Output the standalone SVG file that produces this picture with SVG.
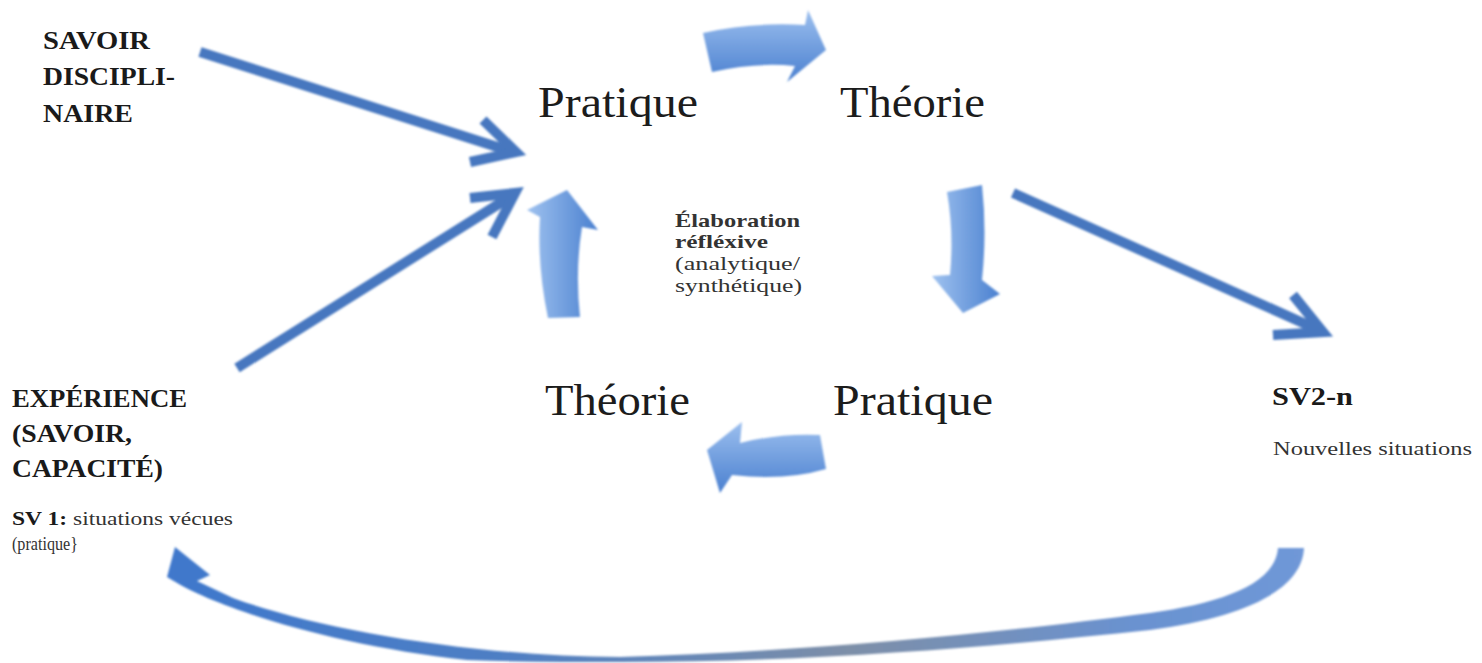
<svg xmlns="http://www.w3.org/2000/svg" width="1482" height="663" viewBox="0 0 1482 663">
<style>
.big{font-family:"Liberation Serif",serif;font-size:44px;fill:#1c1c1c}
.lbl{font-family:"Liberation Serif",serif;font-size:26px;font-weight:bold;fill:#1a1a1a}
.mid{font-family:"Liberation Serif",serif;font-size:19px;fill:#333}
.sm{font-family:"Liberation Serif",serif;font-size:19px;fill:#333}
.line{fill:none;stroke:#4677bf;stroke-width:10;stroke-linejoin:miter}
</style>
<defs>
<linearGradient id="gV" x1="0" y1="0" x2="0" y2="1"><stop offset="0" stop-color="#9cbfee"/><stop offset="1" stop-color="#4a80d0"/></linearGradient>
<linearGradient id="gH" x1="0" y1="0" x2="1" y2="0"><stop offset="0" stop-color="#9fc2ef"/><stop offset="1" stop-color="#4a80d0"/></linearGradient>
<linearGradient id="gB" x1="0" y1="0" x2="1" y2="0"><stop offset="0" stop-color="#3f78cc"/><stop offset="0.3" stop-color="#4f7fc4"/><stop offset="0.6" stop-color="#7d8fa8"/><stop offset="0.85" stop-color="#6a92d0"/><stop offset="1" stop-color="#6f98d8"/></linearGradient>
<filter id="soft" x="-5%" y="-5%" width="110%" height="110%"><feGaussianBlur stdDeviation="0.8"/></filter>
</defs>

<g id="connectors" filter="url(#soft)">
<g id="arrow-savoir">
<path class="line" d="M200,52 L513,152"/>
<path class="line" d="M483,120 L516,152 L470,162"/>
</g>
<g id="arrow-experience">
<path class="line" d="M237,368 L513,195"/>
<path class="line" d="M470,198 L515,193 L492,237"/>
</g>
<g id="arrow-sv2">
<path class="line" d="M1013,193 L1321,331"/>
<path class="line" d="M1293,295 L1323,332 L1273,335"/>
</g>
<path id="arrow-top" fill="url(#gV)" d="M703,33 Q750,22 805,25 L808,10 L826,50 L787,82 L795,66 Q755,62 712,72 Z"/>
<path id="arrow-down" fill="url(#gH)" d="M947,192 Q954,232 950,275 L932,276 L963,313 L1000,294 L982,280 Q987,232 982,185 Z"/>
<path id="arrow-up" fill="url(#gH)" d="M548,318 Q537,265 540,217 L527,210 L567,190 L598,230 L582,227 Q575,270 580,317 Z"/>
<path id="arrow-left" fill="url(#gV)" d="M820,435 Q780,433 740,443 L742,422 L707,450 L720,493 L732,475 Q785,481 826,469 Z"/>
<path id="arrow-bottom" fill="url(#gB)" d="M1278,548 C1275,585 1220,603 1150,613 C1000,633 800,652 620,657 C480,657 320,630 233,598 L197,581 L210,575 L175,547 L167,577 L172,580 C215,607 330,645 467,660 C520,662 570,662 620,662 C820,662 1000,646 1150,630 C1245,617 1302,590 1304,548 Z"/>
</g>

<g id="node-savoir">
<text class="lbl" x="43" y="49" textLength="107" lengthAdjust="spacingAndGlyphs">SAVOIR</text>
<text class="lbl" x="43" y="85" textLength="132" lengthAdjust="spacingAndGlyphs">DISCIPLI-</text>
<text class="lbl" x="43" y="122" textLength="90" lengthAdjust="spacingAndGlyphs">NAIRE</text>
</g>
<g id="node-pratique-top"><text class="big" x="538" y="117" textLength="160" lengthAdjust="spacingAndGlyphs">Pratique</text></g>
<g id="node-theorie-top"><text class="big" x="840" y="117" textLength="145" lengthAdjust="spacingAndGlyphs">Théorie</text></g>
<g id="node-elaboration">
<text class="mid" x="675" y="227" font-weight="bold" fill="#1a1a1a" textLength="125" lengthAdjust="spacingAndGlyphs">Élaboration</text>
<text class="mid" x="675" y="248" font-weight="bold" fill="#1a1a1a" textLength="93" lengthAdjust="spacingAndGlyphs">réfléxive</text>
<text class="mid" x="675" y="270" textLength="125" lengthAdjust="spacingAndGlyphs">(analytique/</text>
<text class="mid" x="675" y="292" textLength="127" lengthAdjust="spacingAndGlyphs">synthétique)</text>
</g>
<g id="node-theorie-bottom"><text class="big" x="545" y="415" textLength="145" lengthAdjust="spacingAndGlyphs">Théorie</text></g>
<g id="node-pratique-bottom"><text class="big" x="833" y="415" textLength="160" lengthAdjust="spacingAndGlyphs">Pratique</text></g>
<g id="node-experience">
<text class="lbl" x="12" y="407" textLength="175" lengthAdjust="spacingAndGlyphs">EXPÉRIENCE</text>
<text class="lbl" x="12" y="442" textLength="120" lengthAdjust="spacingAndGlyphs">(SAVOIR,</text>
<text class="lbl" x="12" y="477" textLength="151" lengthAdjust="spacingAndGlyphs">CAPACITÉ)</text>
<text class="sm" x="12" y="525" textLength="221" lengthAdjust="spacingAndGlyphs"><tspan font-weight="bold" fill="#1a1a1a">SV 1:</tspan> situations vécues</text>
<text class="sm" x="12" y="550" textLength="66" lengthAdjust="spacingAndGlyphs">(pratique}</text>
</g>
<g id="node-sv2">
<text class="lbl" x="1272" y="405" textLength="81" lengthAdjust="spacingAndGlyphs">SV2-n</text>
<text class="sm" x="1273" y="455" textLength="199" lengthAdjust="spacingAndGlyphs">Nouvelles situations</text>
</g>
</svg>
